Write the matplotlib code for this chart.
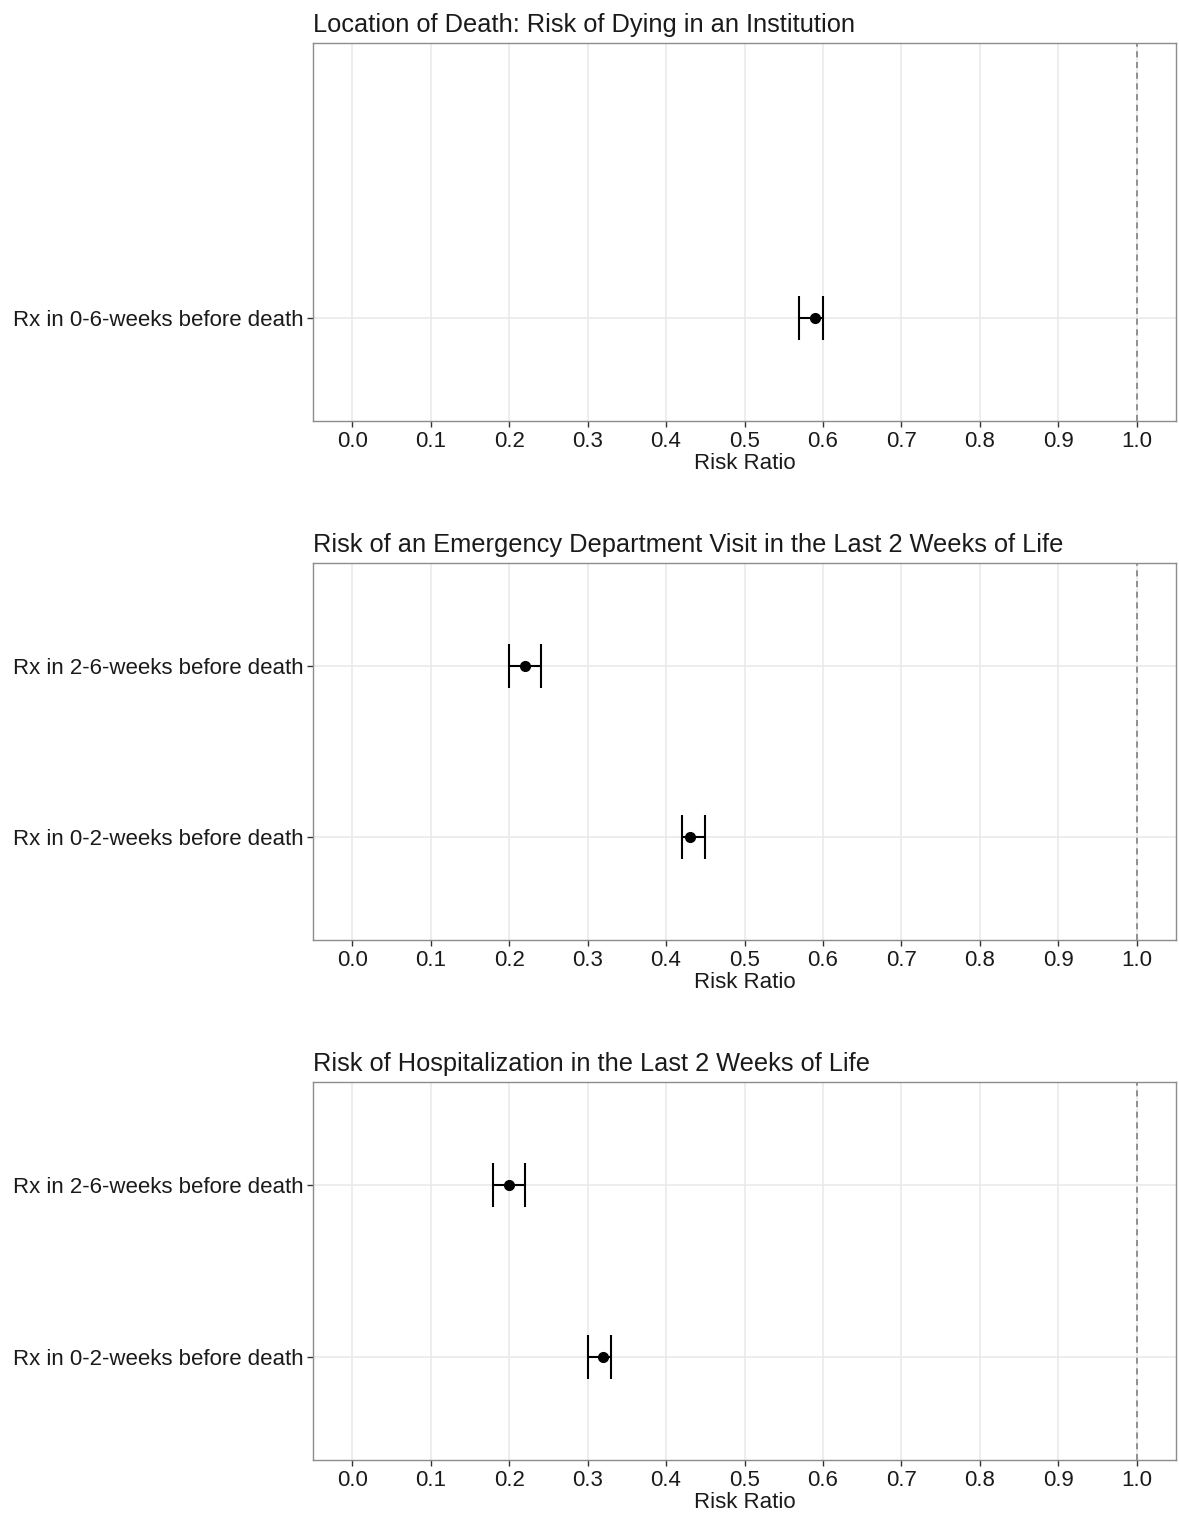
import matplotlib
matplotlib.use("Agg")
import matplotlib.pyplot as plt
import numpy as np

plt.rcParams['font.family'] = ['Liberation Sans', 'DejaVu Sans']

# Panel titles
titles = [
    "Location of Death: Risk of Dying in an Institution",
    "Risk of an Emergency Department Visit in the Last 2 Weeks of Life",
    "Risk of Hospitalization in the Last 2 Weeks of Life",
]

# Exposure windows (top to bottom) for each panel
labels_inst = ["Rx in 0-6-weeks before death"]
labels_ed = ["Rx in 2-6-weeks before death", "Rx in 0-2-weeks before death"]
labels_hosp = ["Rx in 2-6-weeks before death", "Rx in 0-2-weeks before death"]

# Risk ratios with 95% confidence limits
rr_inst = [0.59]
lo_inst = [0.57]
hi_inst = [0.60]

rr_ed = [0.22, 0.43]
lo_ed = [0.20, 0.42]
hi_ed = [0.24, 0.45]

rr_hosp = [0.20, 0.32]
lo_hosp = [0.18, 0.30]
hi_hosp = [0.22, 0.33]

x_ticks = [0.0, 0.1, 0.2, 0.3, 0.4, 0.5, 0.6, 0.7, 0.8, 0.9, 1.0]

panels = [
    (labels_inst, rr_inst, lo_inst, hi_inst),
    (labels_ed, rr_ed, lo_ed, hi_ed),
    (labels_hosp, rr_hosp, lo_hosp, hi_hosp),
]

W, H = 1179, 1516
fig = plt.figure(figsize=(W / 100, H / 100), dpi=100)

# Panel boxes in pixel coordinates: (left, top, right, bottom)
boxes = [(313, 43, 1176, 421), (313, 563, 1176, 940), (313, 1082, 1176, 1460)]

for (labels, rr, lo, hi), title, (l, t, r, b) in zip(panels, titles, boxes):
    ax = fig.add_axes([l / W, 1 - b / H, (r - l) / W, (b - t) / H])
    n = len(labels)
    ypos = np.arange(n)[::-1] + 1  # first label at the top, last at slot 1
    rr = np.array(rr)
    lo = np.array(lo)
    hi = np.array(hi)
    ax.axvline(1.0, color='#777777', lw=1.1, ls=(0, (4, 3)), zorder=2)
    ax.errorbar(rr, ypos, xerr=[rr - lo, hi - rr], fmt='none', ecolor='black',
                elinewidth=1.5, capsize=15.5, capthick=1.5, zorder=3)
    ax.plot(rr, ypos, 'o', color='black', ms=7, zorder=4)
    ax.set_xlim(-0.05, 1.05)
    ax.set_ylim(0.4, 2.6)
    ax.set_xticks(x_ticks)
    ax.set_xticklabels([f"{v:.1f}" for v in x_ticks])
    ax.set_yticks(ypos)
    ax.set_yticklabels(labels)
    ax.grid(True, color='#E8E8E8', lw=1.1, zorder=0)
    ax.set_axisbelow(True)
    for s in ax.spines.values():
        s.set_color('#8C8C8C')
        s.set_linewidth(1.0)
    ax.tick_params(axis='both', colors='#333333', length=4, width=1.0,
                   labelsize=16, labelcolor='#1a1a1a', pad=3)
    ax.set_xlabel("Risk Ratio", fontsize=16, color='#1a1a1a', labelpad=1)
    ax.set_title(title, loc='left', fontsize=18.3, color='#1a1a1a', pad=8)

fig.savefig("out.png", dpi=100, facecolor='white')
